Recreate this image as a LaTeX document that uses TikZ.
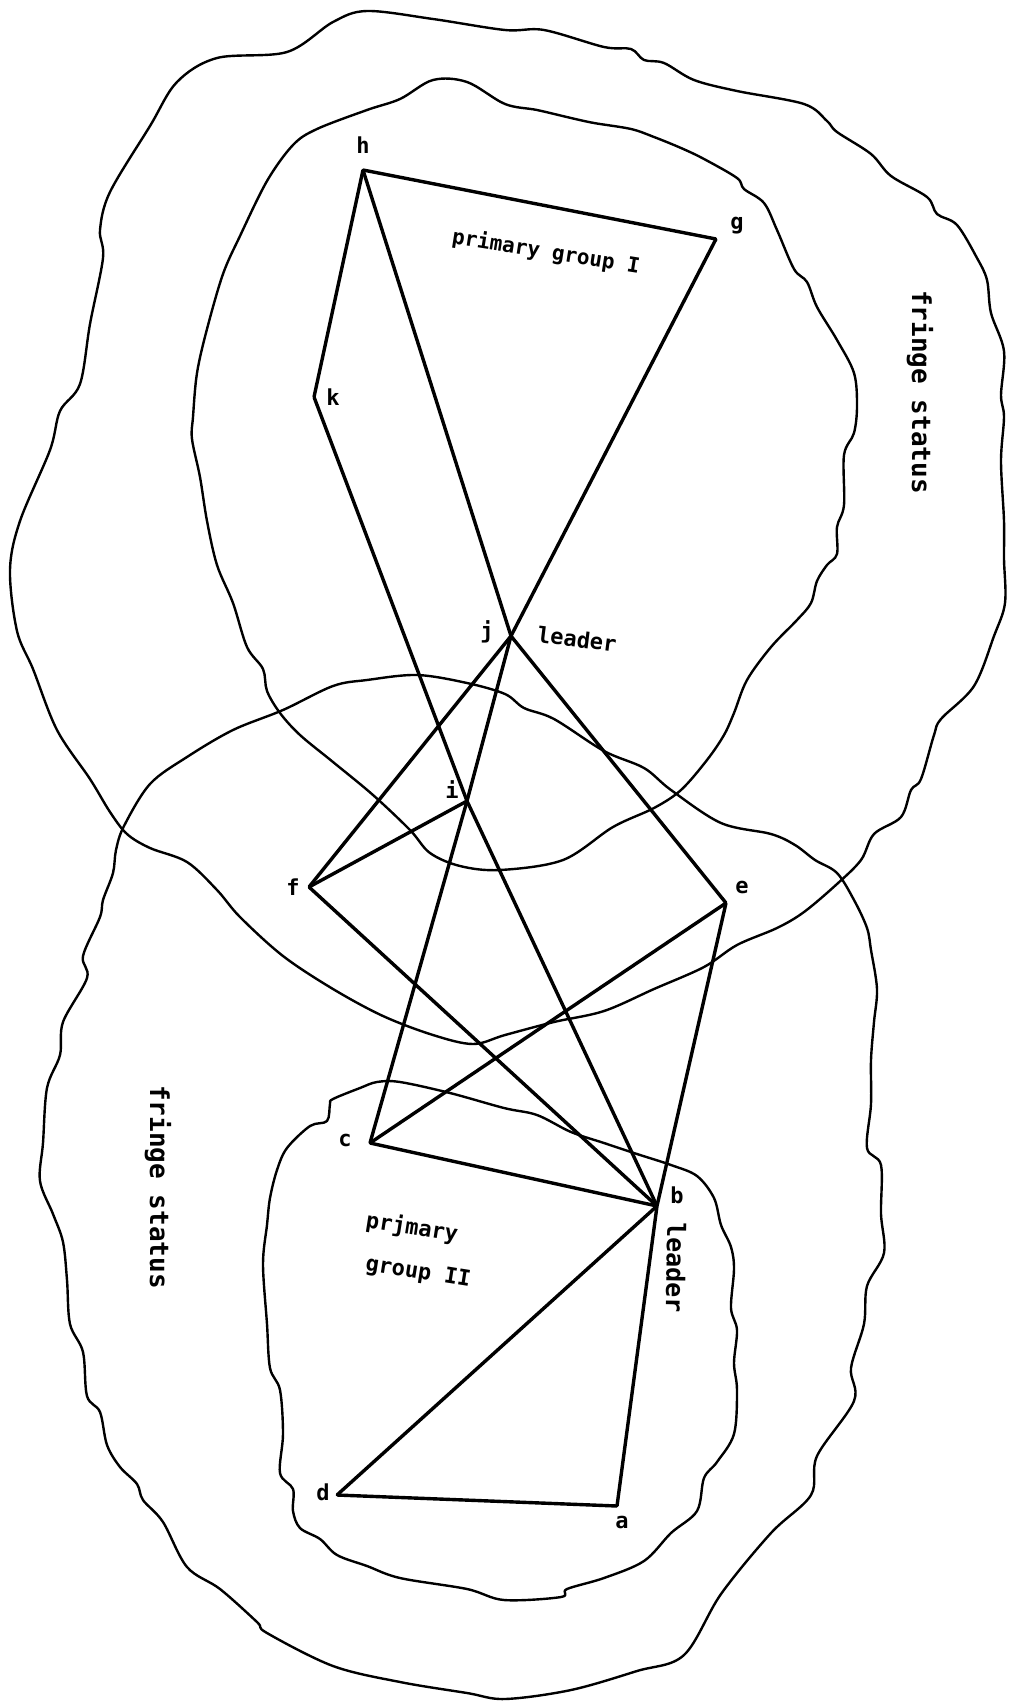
\documentclass[tikz,border=0pt]{standalone}
\usepackage{fontspec}
\setmonofont{DejaVu Sans Mono}
\usetikzlibrary{positioning}

\begin{document}
\begin{tikzpicture}[x=0.5pt, y=-0.5pt, line join=round, line cap=round,
    vertex/.style={circle, inner sep=0pt, minimum size=0pt},
    letter/.style={font=\ttfamily\bfseries\fontsize{11}{13}\selectfont, inner sep=0pt},
    caption/.style={font=\ttfamily\bfseries\fontsize{10.5}{14}\selectfont, inner sep=0pt},
    fringe/.style={font=\ttfamily\bfseries\fontsize{13}{15}\selectfont, inner sep=0pt, rotate=-90},
    blob/.style={draw, line width=1.2pt},
    line/.style={draw, line width=1.7pt}]

    \path [use as bounding box, fill=white] (0,0) rectangle (1009,1703);

    % outer fringe of group I
    \draw [blob] plot [smooth cycle, tension=0.55] coordinates {
        (333,22) (367,11) (433,19) (505,30) (544,30) (604,47) (631,49) (644,60)
        (664,63) (694,80) (737,91) (804,104) (827,121) (837,132) (871,154) (891,176)
        (927,197) (937,214) (957,225) (977,258) (987,280) (991,313) (1004,351) (1001,395)
        (1004,417) (1001,461) (1004,521) (1004,559) (1005,603) (994,636) (974,686) (941,719)
        (934,735) (921,779) (911,790) (901,817) (874,834) (861,860) (837,884) (804,912)
        (777,928) (737,945) (704,967) (654,989) (604,1011) (554,1022) (505,1035) (473,1044)
        (433,1035) (383,1016) (333,989) (283,956) (240,917) (217,890) (187,862) (150,848)
        (127,834) (110,812) (90,779) (57,730) (33,669) (17,631) (10,570) (20,521)
        (50,450) (60,411) (80,384) (90,324) (103,258) (100,230) (110,192) (150,126)
        (177,82) (217,58) (287,52)};

    % outer fringe of group II
    \draw [blob] plot [smooth cycle, tension=0.55] coordinates {
        (116,850) (124,826) (150,784) (187,757) (233,730) (283,710) (333,686) (367,680)
        (417,675) (467,683) (505,694) (524,708) (554,719) (604,751) (644,768) (671,790)
        (721,823) (771,834) (795,845) (815,860) (837,873) (854,900) (867,928) (871,950)
        (877,989) (874,1022) (871,1060) (871,1104) (867,1148) (881,1165) (881,1214) (884,1253)
        (867,1286) (864,1324) (851,1368) (854,1401) (817,1456) (811,1495) (771,1533) (721,1594)
        (684,1655) (637,1671) (571,1690) (505,1699) (467,1693) (400,1682) (333,1666) (267,1633)
        (257,1622) (220,1589) (187,1567) (163,1522) (143,1500) (137,1484) (120,1467) (107,1445)
        (100,1412) (87,1396) (83,1352) (70,1324) (67,1280) (63,1242) (53,1214) (40,1181)
        (43,1143) (47,1088) (60,1055) (63,1022) (87,978) (83,956) (100,917) (103,900)
        (113,873)};

    % primary group I
    \draw [blob] plot [smooth cycle, tension=0.55] coordinates {
        (400,99) (433,80) (467,82) (505,104) (537,110) (571,118) (594,123) (631,129)
        (654,137) (681,148) (704,159) (737,178) (744,189) (764,203) (777,230) (794,269)
        (807,282) (817,307) (837,340) (854,373) (857,406) (854,433) (844,455) (844,505)
        (837,527) (837,554) (827,565) (817,581) (811,603) (797,620) (771,647) (747,680)
        (734,713) (724,735) (707,760) (681,790) (654,808) (613,827) (563,860) (500,870)
        (460,866) (430,853) (410,830) (373,795) (333,762) (300,735) (280,713) (267,691)
        (263,669) (247,647) (233,603) (217,565) (207,521) (200,477) (192,439) (193,417)
        (197,373) (207,329) (223,274) (240,236) (267,181) (293,145) (317,129) (367,110)};

    % primary group II
    \draw [blob] plot [smooth cycle, tension=0.55] coordinates {
        (333,1099) (360,1088) (377,1082) (400,1082) (450,1093) (504,1108) (537,1115) (571,1132)
        (604,1143) (637,1154) (671,1165) (697,1176) (714,1198) (721,1225) (731,1247) (734,1269)
        (731,1308) (737,1330) (734,1363) (737,1390) (734,1434) (717,1462) (704,1478) (697,1511)
        (671,1533) (644,1561) (604,1578) (567,1589) (561,1597) (504,1600) (467,1589) (400,1578)
        (367,1566) (337,1555) (320,1539) (300,1528) (293,1511) (293,1489) (280,1473) (283,1434)
        (280,1390) (270,1368) (267,1324) (263,1264) (267,1225) (270,1198) (277,1170) (287,1148)
        (310,1126) (327,1121) (330,1104)};

    % members
    \node [vertex] (h) at (363,170) {};
    \node [vertex] (g) at (716,239) {};
    \node [vertex] (k) at (314,397) {};
    \node [vertex] (j) at (511,636) {};
    \node [vertex] (i) at (467,801) {};
    \node [vertex] (f) at (309,887) {};
    \node [vertex] (e) at (726,903) {};
    \node [vertex] (c) at (370,1143) {};
    \node [vertex] (b) at (657,1206) {};
    \node [vertex] (d) at (337,1495) {};
    \node [vertex] (a) at (617,1506) {};

    \node [letter] (hname) at (363,145) {h};
    \node [letter] (gname) at (737,226) {g};
    \node [letter] (kname) at (333,397) {k};
    \node [letter] (jname) at (487,632) {j};
    \node [letter] (iname) at (452,790) {i};
    \node [letter] (fname) at (293,887) {f};
    \node [letter] (ename) at (742,887) {e};
    \node [letter] (cname) at (345,1140) {c};
    \node [letter] (bname) at (677,1195) {b};
    \node [letter] (dname) at (323,1492) {d};
    \node [letter] (aname) at (622,1522) {a};

    \node [caption, rotate=-9] (groupone) at (546,252) {primary group I};
    \node [caption, rotate=-9, font=\ttfamily\bfseries\fontsize{11}{13}\selectfont] (primtwo) at (412,1228) {prjmary};
    \node [caption, rotate=-9, font=\ttfamily\bfseries\fontsize{11}{13}\selectfont] (grouptwo) at (418,1273) {group II};
    \node [letter, rotate=-7] (leaderj) at (577,639) {leader};
    \node [letter, rotate=-91, font=\ttfamily\bfseries\fontsize{12.5}{14}\selectfont] (leaderb) at (676,1268) {leader};
    \node [fringe] (fringeone) at (920,392) {fringe status};
    \node [fringe] (fringetwo) at (158,1187) {fringe status};

    \path [line] (h) -- (g);
    \path [line] (h) -- (k);
    \path [line] (h) -- (j);
    \path [line] (g) -- (j);
    \path [line] (k) -- (i);
    \path [line] (j) -- (i);
    \path [line] (j) -- (f);
    \path [line] (j) -- (e);
    \path [line] (i) -- (f);
    \path [line] (i) -- (c);
    \path [line] (i) -- (b);
    \path [line] (f) -- (b);
    \path [line] (e) -- (c);
    \path [line] (e) -- (b);
    \path [line] (c) -- (b);
    \path [line] (b) -- (d);
    \path [line] (b) -- (a);
    \path [line] (d) -- (a);

\end{tikzpicture}
\end{document}
